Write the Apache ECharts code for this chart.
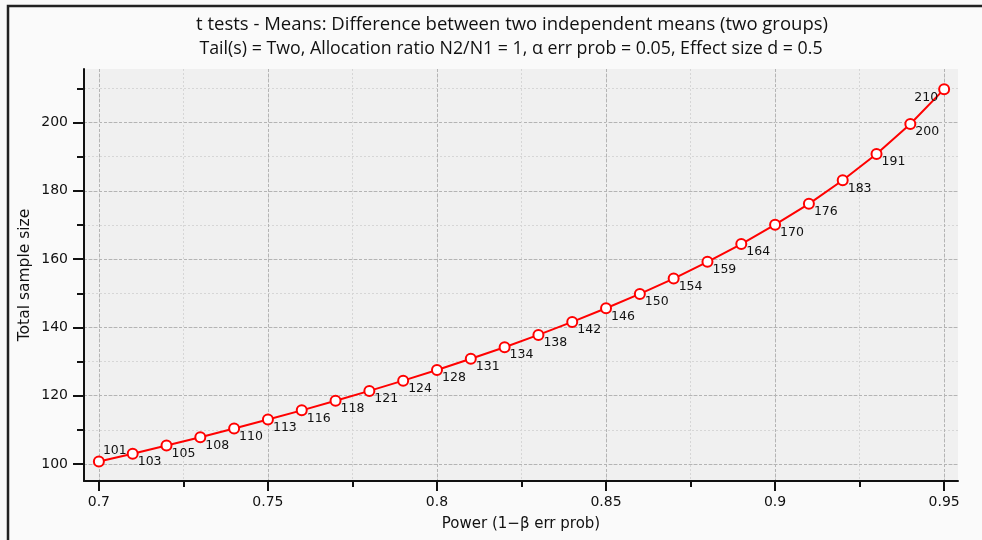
<!DOCTYPE html>
<html>
<head>
<meta charset="utf-8">
<script src="https://cdn.jsdelivr.net/npm/echarts@6/dist/echarts.min.js"></script>
<style>html,body{margin:0;padding:0;background:#fafafa;}#c{width:982px;height:540px;}</style>
</head>
<body>
<div id="c"></div>
<script>
const power = [0.70,0.71,0.72,0.73,0.74,0.75,0.76,0.77,0.78,0.79,0.80,0.81,0.82,0.83,0.84,0.85,0.86,0.87,0.88,0.89,0.90,0.91,0.92,0.93,0.94,0.95];
const totalN = [100.7,103.0,105.4,107.8,110.4,113.0,115.7,118.5,121.4,124.4,127.5,130.8,134.2,137.8,141.6,145.6,149.8,154.3,159.2,164.4,170.1,176.2,183.1,190.8,199.6,209.8];
const pointLabels = [101,103,105,108,110,113,116,118,121,124,128,131,134,138,142,146,150,154,159,164,170,176,183,191,200,210];
const xMinorTicks = [0.7,0.725,0.75,0.775,0.8,0.825,0.85,0.875,0.9,0.925,0.95];
const xMajorTicks = [0.7,0.75,0.8,0.85,0.9,0.95];
const yMinorTicks = [100,110,120,130,140,150,160,170,180,190,200,210];
const yMajorTicks = [100,120,140,160,180,200];
const titleText = 't tests - Means: Difference between two independent means (two groups)';
const subtitleText = 'Tail(s) = Two, Allocation ratio N2/N1 = 1, α err prob = 0.05, Effect size d = 0.5';

const FONT = 'DejaVu Sans';
const data = power.map((p, i) => {
  let label = { position: [11, 14], align: 'left', verticalAlign: 'middle' };
  if (i === 0) label = { position: [10, -5], align: 'left', verticalAlign: 'middle' };
  if (i === power.length - 1) label = { position: [0, 15], align: 'right', verticalAlign: 'middle' };
  return { value: [p, totalN[i]], label: Object.assign({ formatter: String(pointLabels[i]) }, label) };
});

const chart = echarts.init(document.getElementById('c'), null, { renderer: 'canvas' });
const xRange = { min: 0.6956, max: 0.9541 };
const yRange = { min: 95, max: 215.7 };
chart.setOption({
  backgroundColor: '#fafafa',
  animation: false,
  graphic: [
    { type: 'rect', shape: { x: 8, y: 6, width: 1000, height: 600 }, style: { fill: 'none', stroke: '#222', lineWidth: 2.5 }, silent: true },
    { type: 'text', x: 512, y: 25, style: { text: titleText, font: '18.5px "Open Sans"', fill: '#111', align: 'center', verticalAlign: 'middle' } },
    { type: 'text', x: 511, y: 49, style: { text: subtitleText, font: '17.8px "Open Sans"', fill: '#111', align: 'center', verticalAlign: 'middle' } }
  ],
  grid: { left: 84, right: 24, top: 69, bottom: 59, show: true, backgroundColor: '#f0f0f0', borderWidth: 0 },
  xAxis: [
    {
      type: 'value', ...xRange,
      name: 'Power (1−β err prob)', nameLocation: 'middle', nameGap: 36,
      nameTextStyle: { fontFamily: FONT, fontSize: 15, color: '#111' },
      axisLine: { show: true, onZero: false, lineStyle: { color: '#111', width: 2 } },
      axisTick: { show: true, length: 6, customValues: xMinorTicks, lineStyle: { color: '#111', width: 2 } },
      axisLabel: { show: false },
      splitLine: { show: true, lineStyle: { color: '#d6d6d6', type: [2, 2], width: 1 } }
    },
    {
      type: 'value', ...xRange, position: 'bottom',
      axisLine: { show: false, onZero: false },
      axisTick: { show: true, length: 10, customValues: xMajorTicks, lineStyle: { color: '#111', width: 2 } },
      axisLabel: { show: true, customValues: xMajorTicks, margin: 14, fontFamily: FONT, fontSize: 14, color: '#111', formatter: v => String(+v.toFixed(3)) },
      splitLine: { show: true, lineStyle: { color: '#b4b4b4', type: [3, 2], width: 1 } }
    }
  ],
  yAxis: [
    {
      type: 'value', ...yRange,
      name: 'Total sample size', nameLocation: 'middle', nameGap: 51,
      nameTextStyle: { fontFamily: FONT, fontSize: 15.5, color: '#111' },
      axisLine: { show: true, onZero: false, lineStyle: { color: '#111', width: 2 } },
      axisTick: { show: true, length: 7, customValues: yMinorTicks, lineStyle: { color: '#111', width: 2 } },
      axisLabel: { show: false },
      splitLine: { show: true, lineStyle: { color: '#d6d6d6', type: [2, 2], width: 1 } }
    },
    {
      type: 'value', ...yRange, position: 'left',
      axisLine: { show: false, onZero: false },
      axisTick: { show: true, length: 11, customValues: yMajorTicks, lineStyle: { color: '#111', width: 2 } },
      axisLabel: { show: true, customValues: yMajorTicks, margin: 16, fontFamily: FONT, fontSize: 14, color: '#111' },
      splitLine: { show: true, lineStyle: { color: '#b4b4b4', type: [3, 2], width: 1 } }
    }
  ],
  series: [{
    type: 'line',
    xAxisIndex: 0, yAxisIndex: 0,
    data: data,
    symbol: 'circle', symbolSize: 10,
    showAllSymbol: true,
    lineStyle: { color: '#ff0000', width: 2 },
    itemStyle: { color: '#ffffff', borderColor: '#ff0000', borderWidth: 2 },
    label: { show: true, fontFamily: FONT, fontSize: 12.5, color: '#111' },
    emphasis: { disabled: true }
  }]
});
</script>
</body>
</html>
